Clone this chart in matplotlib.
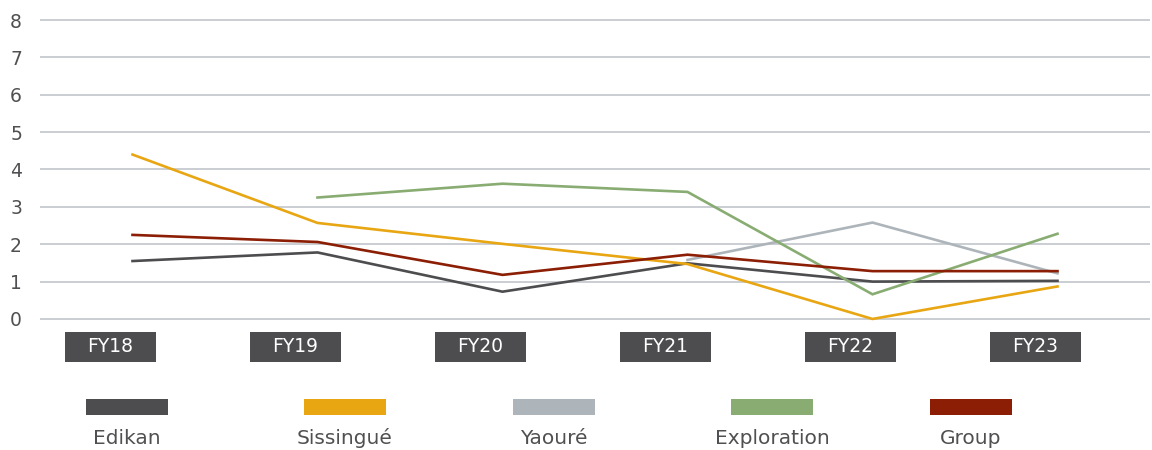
import matplotlib.pyplot as plt
from matplotlib.patches import Rectangle
from matplotlib.transforms import blended_transform_factory
import numpy as np

plt.rcParams['font.family'] = ['DejaVu Sans']

# data
years = ['FY18', 'FY19', 'FY20', 'FY21', 'FY22', 'FY23']
edikan = [1.55, 1.78, 0.73, 1.49, 1.00, 1.02]
sissingue = [4.40, 2.57, 2.01, 1.47, 0.00, 0.87]
yaoure = [np.nan, np.nan, np.nan, 1.58, 2.58, 1.22]
exploration = [np.nan, 3.25, 3.62, 3.40, 0.66, 2.28]
group = [2.25, 2.06, 1.18, 1.72, 1.28, 1.28]

names = ['Edikan', 'Sissingué', 'Yaouré', 'Exploration', 'Group']
series = [edikan, sissingue, yaoure, exploration, group]
colors = ['#4d4d4f', '#e8a613', '#adb5bb', '#88ac72', '#8b1e04']

txt_col = '#505052'

fig = plt.figure(figsize=(11.52, 4.5), dpi=100)
ax = fig.add_axes([40 / 1152, 1 - 322.7 / 450, 1110 / 1152, 306.4 / 450])

x = np.arange(len(years))
for vals, c, n in zip(series, colors, names):
    ax.plot(x, vals, color=c, lw=1.9, label=n, solid_joinstyle='miter', zorder=3)

ax.set_xlim(-0.5, len(years) - 0.5)
ax.set_ylim(-0.1, 8.1)
ax.set_yticks(range(0, 9))
ax.yaxis.grid(True, color='#c6cacf', lw=1.3)
ax.set_axisbelow(True)
for s in ax.spines.values():
    s.set_visible(False)
ax.tick_params(axis='y', length=0, pad=13, labelsize=13.5, labelcolor=txt_col)
ax.set_xticks([])

# year labels in dark boxes below the axis
trans = blended_transform_factory(ax.transData, ax.transAxes)
box_w = 0.492
off = -0.12
for i, yr in enumerate(years):
    cx = i + off
    ax.add_patch(Rectangle((cx - box_w / 2, -0.128), box_w, 0.098, transform=trans,
                           facecolor='#4d4d4f', edgecolor='none', clip_on=False))
    ax.text(cx, -0.079, yr, transform=trans, ha='center', va='center',
            color='white', fontsize=13.5)

# legend: swatch above name
legend_x = [127, 345, 554, 772, 971]
for lx, c, n in zip(legend_x, colors, names):
    fig.patches.append(Rectangle(((lx - 41) / 1152, 1 - 414.5 / 450), 82 / 1152, 15.5 / 450,
                                 transform=fig.transFigure, facecolor=c, edgecolor='none'))
    fig.text(lx / 1152, 1 - 438 / 450, n, ha='center', va='center',
             fontsize=14.5, color=txt_col)

fig.savefig('out.png', dpi=100)
